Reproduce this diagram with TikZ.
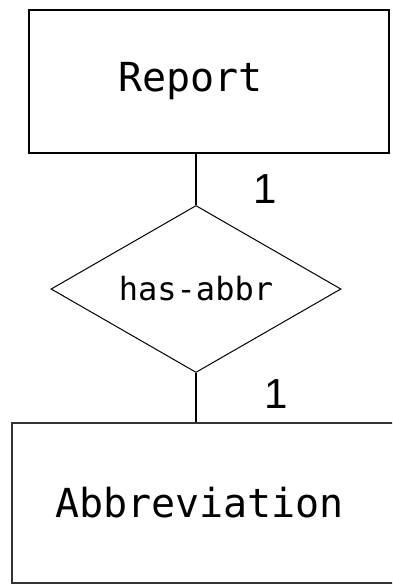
\documentclass[tikz,border=0pt]{standalone}
\usepackage{fontspec}
\setmonofont{DejaVu Sans Mono}
\setsansfont{Liberation Sans}
\usetikzlibrary{shapes.geometric}
\tikzset{
  entity/.style={draw,rectangle,align=left,font=\ttfamily\fontsize{40}{40}\selectfont},
  relation/.style={draw,diamond,aspect=2,inner sep=0pt,line width=1pt,font=\ttfamily\fontsize{32}{32}\selectfont},
  card/.style={font=\sffamily\fontsize{42}{42}\selectfont,inner sep=0pt},
  link/.style={line width=2pt}
}
\begin{document}
\begin{tikzpicture}[x=1pt,y=-1pt]
  \useasboundingbox (0,0) rectangle (392,587);
  \clip (0,0) rectangle (392,587);
  \draw
    (209,81.5) node[entity,line width=2pt,minimum width=360pt,minimum height=143pt,inner xsep=89pt,text width=182pt] (report){Report}
    (196,289) node[relation,minimum width=290pt,minimum height=167pt] (rel){has-abbr}
    (227,503) node[entity,line width=1.5pt,draw=black!80,minimum width=430pt,minimum height=160pt,inner xsep=43pt,text width=344pt] (abbr){Abbreviation}
    (265,189) node[card] (c1){1}
    (276,394) node[card] (c2){1};
  \begin{scope}[link]
    \draw (rel.north) to (rel.north |- report.south);
    \draw (rel.south) to (rel.south |- abbr.north);
  \end{scope}
\end{tikzpicture}
\end{document}
